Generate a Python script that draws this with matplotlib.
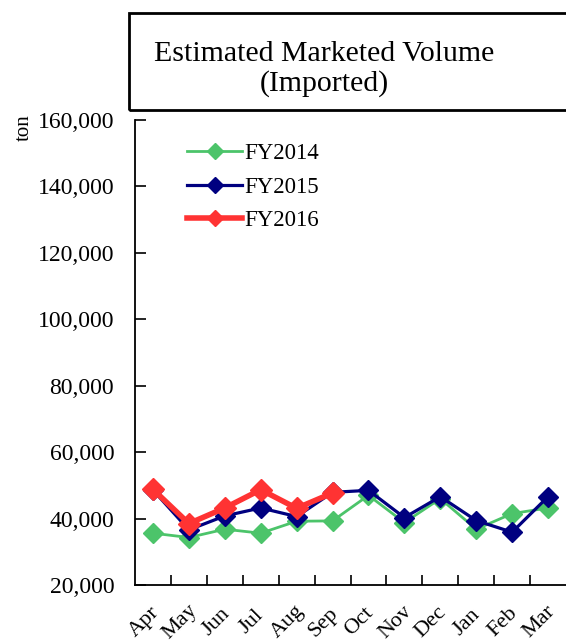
import matplotlib
matplotlib.use("Agg")
import matplotlib.pyplot as plt
from matplotlib.patches import Rectangle
from matplotlib.ticker import FuncFormatter, FixedLocator, NullFormatter
from matplotlib.transforms import blended_transform_factory, ScaledTranslation

months = ["Apr", "May", "Jun", "Jul", "Aug", "Sep", "Oct", "Nov", "Dec", "Jan", "Feb", "Mar"]
fy2014 = [35600, 34300, 36800, 35600, 39200, 39300, 47000, 38800, 46000, 36800, 41500, 43200]
fy2015 = [48600, 36600, 40800, 43200, 40600, 47900, 48500, 40300, 46600, 39400, 35900, 46600]
fy2016 = [48800, 38500, 43200, 48700, 43100, 47700]
yticks = [20000, 40000, 60000, 80000, 100000, 120000, 140000, 160000]

plt.rcParams["font.family"] = ["Liberation Serif", "DejaVu Serif"]

W, H = 566, 643
fig = plt.figure(figsize=(W / 100, H / 100), dpi=100)
ax = fig.add_axes([135 / W, (H - 585) / H, (566 - 135) / W, (585 - 120) / H])

x14 = list(range(len(fy2014)))
x15 = list(range(len(fy2015)))
x16 = list(range(len(fy2016)))
ax.plot(x14, fy2014, color="#4cc46a", lw=2, marker="D", ms=10.5, label="FY2014", zorder=2)
ax.plot(x15, fy2015, color="#000080", lw=2.3, marker="D", ms=10.5, label="FY2015", zorder=3)
ax.plot(x16, fy2016, color="#ff3333", lw=4, marker="D", ms=11, label="FY2016", zorder=4)

ax.set_xlim(-0.5, len(months) - 0.5)
ax.set_ylim(20000, 160000)
ax.set_yticks(yticks)
ax.yaxis.set_major_formatter(FuncFormatter(lambda v, p: f"{int(v):,}"))
ax.xaxis.set_major_locator(FixedLocator([i + 0.5 for i in range(len(months) - 1)]))
ax.xaxis.set_major_formatter(NullFormatter())
ax.tick_params(axis="x", which="major", direction="in", length=7, width=1.2)
ax.tick_params(axis="y", direction="in", length=8, width=1.2, labelsize=17, pad=15)
ax.spines["top"].set_visible(False)
ax.spines["right"].set_visible(False)
ax.spines["left"].set_linewidth(1.3)
ax.spines["bottom"].set_linewidth(1.3)

trans = blended_transform_factory(ax.transData, ax.transAxes) + \
    ScaledTranslation(-9 / 100, -37 / 100, fig.dpi_scale_trans)
for i, m in enumerate(months):
    ax.text(i, 0, m, transform=trans, rotation=45, ha="center", va="center",
            rotation_mode="anchor", fontsize=16, clip_on=False)

leg = ax.legend(loc="upper left", bbox_to_anchor=(0.1, 0.97), frameon=False, fontsize=16.5,
                handlelength=2.4, labelspacing=0.55, handletextpad=0.1, borderaxespad=0)
for h in leg.legend_handles:
    h.set_markersize(8)

fig.text(24 / W, 1 - 128 / H, "ton", rotation=90, ha="center", va="center", fontsize=15)

fig.patches.append(Rectangle((129 / W, 1 - 110 / H), 445 / W, 97 / H, transform=fig.transFigure,
                             fill=False, edgecolor="black", lw=2))
fig.text(324 / W, 1 - 69 / H, "Estimated Marketed Volume\n(Imported)", ha="center", va="center",
         multialignment="center", fontsize=21.5, linespacing=1.12)

fig.savefig("out.png", dpi=100)
